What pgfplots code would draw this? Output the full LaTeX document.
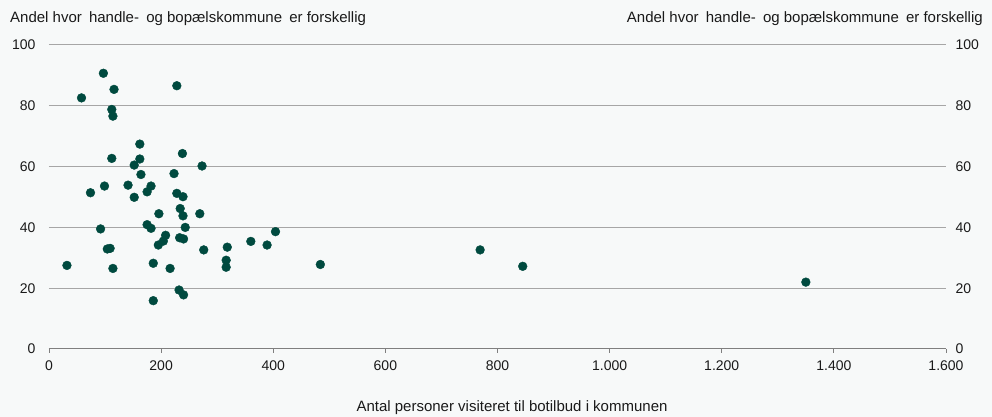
\documentclass[border=0pt]{standalone}
\usepackage{fontspec}
\setmainfont{Liberation Sans}
\usepackage{pgfplots}
\pgfplotsset{compat=1.18}
\definecolor{bg}{HTML}{F7F9F9}
\definecolor{dot}{HTML}{004A3F}
\definecolor{gridc}{HTML}{A6A6A6}
\definecolor{axc}{HTML}{7F7F7F}
\definecolor{txt}{HTML}{1A1A1A}

\pgfplotstableread{
x y
32 27.5
58 82.6
74 51.4
92 39.5
97 90.7
99 53.6
104 32.9
109 33.1
112 78.8
114 76.6
116 85.4
112 62.7
114 26.5
141 53.9
152 60.5
152 49.9
162 67.4
162 62.5
164 57.4
175 51.7
175 40.9
182 53.6
182 39.7
186 28.2
186 15.9
195 34.2
196 44.5
204 35.5
208 37.4
216 26.5
223 57.7
228 86.6
228 51.2
232 19.4
233 36.6
234 46.2
238 64.3
239 50.1
239 43.8
240 36.2
240 17.8
243 40.0
269 44.5
273 60.2
276 32.6
316 29.2
316 26.9
318 33.5
360 35.4
389 34.2
404 38.6
484 27.8
769 32.6
845 27.2
1350 22.0
}\kommuner

\pgfplotsset{
  base/.style={
    at={(0,0)}, anchor=south west,
    scale only axis, width=897pt, height=304pt,
    xmin=0, xmax=1600, ymin=0, ymax=100,
    ytick={0,20,...,100},
    ytick style={draw=none},
    tick label style={font=\fontsize{14}{16}\selectfont, text=txt},
    /pgf/number format/assume math mode=true,
    /pgf/number format/1000 sep={.},
  }
}
\newcommand{\ytitel}{Andel hvor\hspace{3pt} handle-\hspace{3pt} og bopælskommune\hspace{3pt} er forskellig}

\begin{document}
\begin{tikzpicture}
\fill[bg] (-49pt,-68pt) rectangle (943pt,349pt);
\begin{axis}[base,
  separate axis lines,
  axis x line*=bottom, axis y line*=left,
  y axis line style={draw=none},
  x axis line style={draw=axc, line width=1pt},
  xtick={0,200,...,1600},
  xtick style={draw=axc, line width=0.8pt},
  tick align=outside, major tick length=4pt,
  ymajorgrids, grid style={gridc, line width=1pt},
  yticklabel style={anchor=east, xshift=-6pt},
  xticklabel style={yshift=-4pt},
]
\addplot[only marks, mark=*, mark size=4.4pt, draw=dot, fill=dot] table[x=x, y=y] {\kommuner};
\end{axis}
\begin{axis}[base,
  axis x line=none, axis y line*=right,
  y axis line style={draw=none},
  yticklabel style={anchor=west, xshift=6pt},
]
\end{axis}
\node[anchor=base west, font=\fontsize{15}{17}\selectfont, text=txt, inner sep=0pt] at (-39pt,326.5pt) {\ytitel};
\node[anchor=base east, font=\fontsize{15}{17}\selectfont, text=txt, inner sep=0pt] at (934pt,326.5pt) {\ytitel};
\node[anchor=base, font=\fontsize{15}{17}\selectfont, text=txt, inner sep=0pt] at (463pt,-62pt) {Antal personer visiteret til botilbud i kommunen};
\end{tikzpicture}
\end{document}
